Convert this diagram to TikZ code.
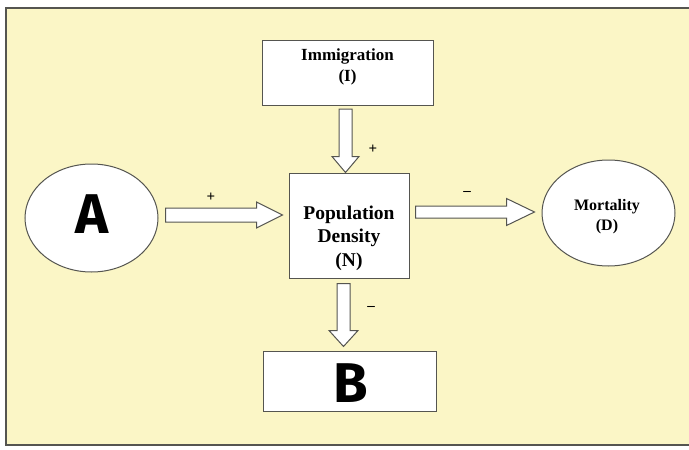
\documentclass[tikz,border=0pt]{standalone}
\usepackage{fontspec}
\setmainfont{Liberation Serif}
\newfontfamily\bigsans{Fira Sans}
\usetikzlibrary{calc,shapes.geometric}
\definecolor{bgyellow}{HTML}{FBF6C6}
\definecolor{edge}{HTML}{555550}
\tikzset{
  box/.style={draw=edge, line width=1pt, fill=white, inner sep=0pt},
  oval/.style={ellipse, draw=edge, line width=1pt, fill=white, inner sep=0pt},
  lbl/.style={align=center, font=\bfseries},
  sign/.style={font=\bfseries\fontsize{15}{15}\selectfont, inner sep=0pt},
  blk/.style={draw=edge, line width=1pt, fill=white, line join=miter},
  hblock/.style n args={3}{to path={
    let \p1=(\tikztostart), \p2=(\tikztotarget) in
    (\x1,{\y1+#1}) -- ({\x2-#3},{\y1+#1}) -- ({\x2-#3},{\y1+#2}) -- (\x2,\y1)
    -- ({\x2-#3},{\y1-#2}) -- ({\x2-#3},{\y1-#1}) -- (\x1,{\y1-#1}) -- cycle}},
  vblock/.style n args={3}{to path={
    let \p1=(\tikztostart), \p2=(\tikztotarget) in
    ({\x1-#1},\y1) -- ({\x1-#1},{\y2+#3}) -- ({\x1-#2},{\y2+#3}) -- (\x1,\y2)
    -- ({\x1+#2},{\y2+#3}) -- ({\x1+#1},{\y2+#3}) -- ({\x1+#1},\y1) -- cycle}},
}
\begin{document}
\begin{tikzpicture}[x=1pt,y=-1pt]
\useasboundingbox (0,0) rectangle (689,450);
\fill[white] (0,0) rectangle (689,450);
\begin{scope}
\clip (0,0) rectangle (689,450);
\draw[edge, line width=1.4pt, fill=bgyellow] (6,8) rectangle (695,445);
\end{scope}

% nodes
\node[box, minimum width=171pt, minimum height=65pt] (imm) at (347.5,73) {};
\node[lbl, font=\bfseries\fontsize{17}{21}\selectfont] (immt) at (347.5,67) {Immigration\\(I)};

\node[box, minimum width=120pt, minimum height=105pt] (pop) at (349,225.5) {};
\node[lbl, font=\bfseries\fontsize{19.5}{23.5}\selectfont] (popt) at (349,238) {Population\\Density\\(N)};

\node[oval, minimum width=133pt, minimum height=108pt] (A) at (91.5,218) {};
\node[font=\bigsans\bfseries\fontsize{56}{56}\selectfont, inner sep=0pt] (At) at (92,214) {A};

\node[oval, minimum width=133pt, minimum height=106pt] (mort) at (608.5,213) {};
\node[lbl, font=\bfseries\fontsize{16}{20}\selectfont] (mortt) at (607,217) {Mortality\\(D)};

\node[box, minimum width=173pt, minimum height=60pt] (B) at (349.5,381) {};
\node[font=\bigsans\bfseries\fontsize{56}{56}\selectfont, inner sep=0pt] (Bt) at (351,383) {B};

% connector end points
\coordinate (a1) at ($(A.east)+(7,-3)$);
\coordinate (a2) at ($(pop.west)+(-6,-10.5)$);
\coordinate (m1) at ($(pop.east)+(6,-13.5)$);
\coordinate (m2) at ($(mort.west)+(-7,-1)$);
\coordinate (i1) at ($(imm.south)+(-2,3)$);
\coordinate (i2) at ($(pop.north)+(-3.5,0)$);
\coordinate (b1) at ($(pop.south)+(-5.5,5)$);
\coordinate (b2) at ($(B.north)+(-6,-4)$);

\draw[blk] (a1) to[hblock={7pt}{13pt}{26pt}] (a2);
\draw[blk] (m1) to[hblock={6pt}{13.5pt}{28pt}] (m2);
\draw[blk] (i1) to[vblock={6.5pt}{13.5pt}{16pt}] (i2);
\draw[blk] (b1) to[vblock={6.5pt}{14.5pt}{16pt}] (b2);

% signs
\node[sign] (s1) at (211,197) {+};
\node[sign] (s2) at (373,149) {+};
\node[sign] (s3) at (467,193) {--};
\node[sign] (s4) at (371,308) {--};
\end{tikzpicture}
\end{document}
